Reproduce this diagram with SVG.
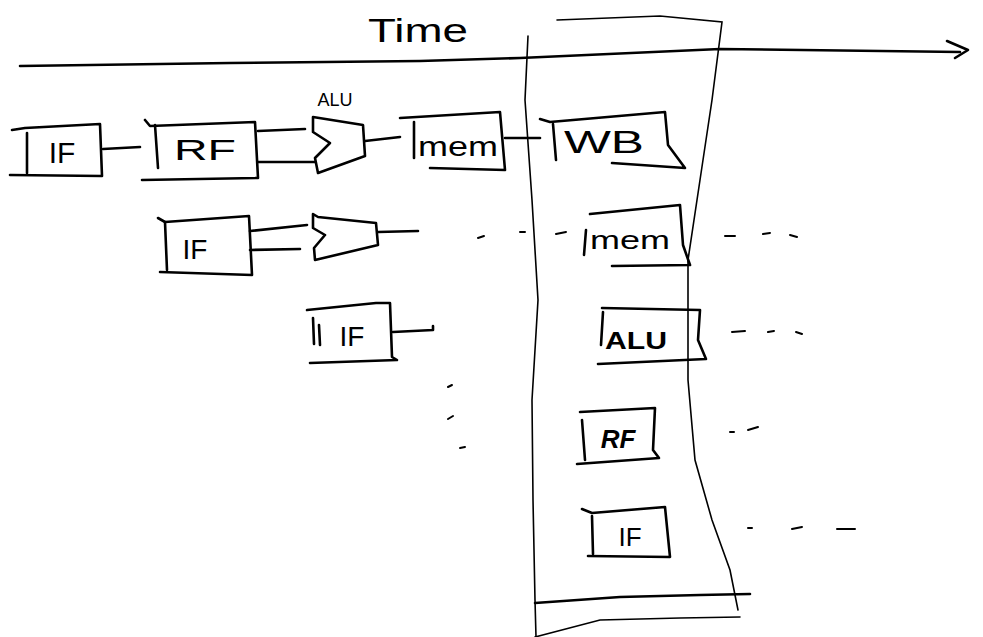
<svg xmlns="http://www.w3.org/2000/svg" width="983" height="637" viewBox="0 0 983 637">
<style>
.s{fill:none;stroke:#000;stroke-width:2.6;stroke-linecap:round;stroke-linejoin:round}
.t{fill:none;stroke:#000;stroke-width:1.6;stroke-linecap:round}
.d{fill:none;stroke:#000;stroke-width:2;stroke-linecap:round}
.l{font-family:"Liberation Sans",Arial,sans-serif;fill:#000;text-anchor:middle}
</style>
<rect width="983" height="637" fill="#fff"/>
<g id="time-axis">
<text class="l" x="418" y="42" font-size="34" textLength="100" lengthAdjust="spacingAndGlyphs">Time</text>
<path class="s" d="M20 66 L230 63 L420 61 L520 58 L720 49 L960 52"/>
<path class="s" d="M947 41 L968 50 L955 58"/>
</g>
<g id="cycle-band">
<path class="t" d="M528 36 L525 100 L532 200 L538 300 L532 400 L533 500 L535 600 L536 637"/>
<path class="t" d="M557 20 L660 16 L722 22 L712 100 L700 180 L688 260 L688 380 L695 460 L712 520 L730 570 L738 610"/>
<path class="s" d="M535 603 L620 597 L700 595 L750 594"/>
<path class="t" d="M535 637 L600 620 L680 618 L740 617"/>
</g>
<g id="connectors">
<path class="s" d="M103 149 L140 147"/>
<path class="s" d="M258 131 L305 129"/>
<path class="s" d="M258 162 L315 162"/>
<path class="s" d="M365 141 L400 137"/>
<path class="s" d="M505 138 L540 138"/>
<path class="s" d="M250 231 L307 225"/>
<path class="s" d="M250 250 L300 249"/>
<path class="s" d="M378 232 L418 231"/>
<path class="d" d="M478 238 L484 236 M520 232 L525 232 M556 234 L566 232"/>
<path class="s" d="M393 332 L433 330 L433 326"/>
<path class="d" d="M448 387 L452 385 M448 419 L453 416 M460 448 L465 447"/>
<path class="d" d="M725 236 L735 236 M763 234 L770 233 M790 235 L797 237"/>
<path class="d" d="M732 332 L745 331 M768 332 L774 331 M796 332 L802 334"/>
<path class="d" d="M730 432 L734 432 M748 430 L758 427"/>
<path class="d" d="M748 528 L752 528 M792 529 L802 527 M837 529 L855 529"/>
</g>
<g id="if1">
<path class="s" d="M12 130 L25 128 L100 124 L102 176 L10 175"/>
<path class="s" d="M27 133 L27 173"/>
<text class="l" x="62" y="163" font-size="30">IF</text>
</g>
<g id="rf1">
<path class="s" d="M145 120 L150 126 L255 122 L258 178 L142 180"/>
<path class="s" d="M155 125 L158 168"/>
<text class="l" x="205" y="160" font-size="30" textLength="62" lengthAdjust="spacingAndGlyphs">RF</text>
</g>
<g id="alu1">
<text class="l" x="335" y="106" font-size="18">ALU</text>
<path class="s" d="M313 117 L363 125 L365 156 L318 173 L315 158 L330 143 L313 132 Z"/>
</g>
<g id="mem1">
<path class="s" d="M400 118 L500 112 L505 170 L430 168"/>
<path class="s" d="M414 122 L414 158"/>
<text class="l" x="458" y="156" font-size="28" textLength="80" lengthAdjust="spacingAndGlyphs">mem</text>
</g>
<g id="wb1">
<path class="s" d="M540 119 L550 122 L665 112 L668 145 L685 168 L612 163"/>
<path class="s" d="M553 124 L556 160"/>
<text class="l" x="604" y="153" font-size="32" textLength="80" lengthAdjust="spacingAndGlyphs">WB</text>
</g>
<g id="if2">
<path class="s" d="M158 218 L165 222 L249 216 L252 275 L160 272"/>
<path class="s" d="M165 222 L167 270"/>
<text class="l" x="195" y="259" font-size="28">IF</text>
</g>
<g id="alu2">
<path class="s" d="M313 214 L318 217 L376 223 L378 245 L315 260 L314 248 L325 235 L313 228 Z"/>
</g>
<g id="mem2">
<path class="s" d="M590 214 L680 205 L683 245 L690 265 L612 266"/>
<path class="s" d="M586 230 L584 255"/>
<text class="l" x="630" y="249" font-size="26" textLength="80" lengthAdjust="spacingAndGlyphs">mem</text>
</g>
<g id="if3">
<path class="s" d="M307 310 L376 303 L390 303 L392 357 L397 360 L310 363"/>
<path class="s" d="M313 318 L314 344 M319 325 L320 345"/>
<text class="l" x="352" y="346" font-size="28">IF</text>
</g>
<g id="alu3">
<path class="s" d="M602 308 L700 310 L698 340 L706 359 L598 364"/>
<path class="s" d="M603 312 L601 345"/>
<text class="l" x="636" y="349" font-size="24" font-weight="bold" textLength="62" lengthAdjust="spacingAndGlyphs">ALU</text>
</g>
<g id="rf3">
<path class="s" d="M580 412 L655 408 L653 450 L659 458 L577 464"/>
<path class="s" d="M582 420 L585 460"/>
<text class="l" x="618" y="448" font-size="26" font-weight="bold" font-style="italic">RF</text>
</g>
<g id="if4">
<path class="s" d="M582 509 L592 513 L665 507 L670 557 L588 556"/>
<path class="s" d="M592 516 L593 554"/>
<text class="l" x="630" y="546" font-size="26">IF</text>
</g>
</svg>
